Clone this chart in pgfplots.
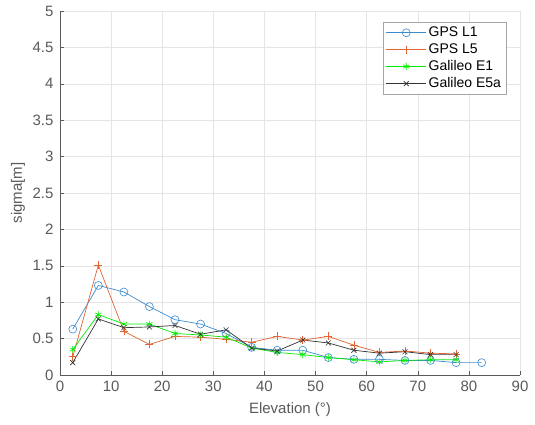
\documentclass[border=0pt]{standalone}
\usepackage{pgfplots}
\pgfplotsset{compat=1.18}
\usepackage{fontspec}
\setmainfont{Liberation Sans}
\definecolor{mblue}{RGB}{60,140,205}
\definecolor{morange}{RGB}{225,100,50}
\definecolor{mgreen}{RGB}{0,235,0}
\definecolor{axgray}{RGB}{90,90,90}
\begin{document}
\begin{tikzpicture}
\begin{axis}[
  name=ax,
  scale only axis, width=460pt, height=364pt,
  xmin=0, xmax=90, ymin=0, ymax=5,
  xtick={0,10,...,90}, ytick={0,0.5,...,5},
  yticklabels={0,0.5,1,1.5,2,2.5,3,3.5,4,4.5,5},
  /pgf/number format/assume math mode=true,
  axis x line*=bottom, axis y line*=left,
  axis line style={axgray, line width=0.6pt},
  tick style={axgray, line width=0.5pt}, tick align=inside,
  major tick length=4pt,
  ticklabel style={font=\fontsize{15}{17}\selectfont, text=axgray},
  yticklabel style={xshift=-3pt},
  xticklabel style={yshift=-2pt},
  grid=major, grid style={gray!20, line width=0.5pt},
  xlabel={\textcolor{axgray}{Elevation (°)}}, ylabel={\textcolor{axgray}{sigma[m]}},
  every axis y label/.style={at={(axis description cs:0,0.5)}, xshift=-42pt, rotate=90, anchor=center, font=\fontsize{15}{17}\selectfont},
  every axis x label/.style={at={(axis description cs:0.5,0)}, yshift=-35pt, anchor=center, font=\fontsize{15}{17}\selectfont},
  legend style={at={(0.97,0.97)}, anchor=north east, font=\fontsize{14}{16}\selectfont, draw=gray!70, cells={anchor=west}, row sep=1.5pt, inner sep=3pt},
  legend cell align=left,
  legend image code/.code={\draw[#1, mark repeat=2, mark phase=2] plot coordinates {(0pt,0pt)(20pt,0pt)(40pt,0pt)};},
]
\addplot[color=mblue, line width=0.7pt, mark=o, mark size=4pt, mark options={line width=0.6pt}] coordinates {
(2.5,0.63)(7.5,1.23)(12.5,1.14)(17.5,0.94)(22.5,0.76)(27.5,0.70)(32.5,0.57)(37.5,0.38)(42.5,0.34)(47.5,0.34)(52.5,0.24)(57.5,0.215)(62.5,0.215)(67.5,0.20)(72.5,0.20)(77.5,0.17)(82.5,0.17)};
\addlegendentry{GPS L1}
\addplot[color=morange, line width=0.7pt, mark=+, mark size=4pt, mark options={line width=0.6pt}] coordinates {
(2.5,0.25)(7.5,1.51)(12.5,0.60)(17.5,0.42)(22.5,0.53)(27.5,0.52)(32.5,0.49)(37.5,0.45)(42.5,0.53)(47.5,0.48)(52.5,0.53)(57.5,0.41)(62.5,0.31)(67.5,0.33)(72.5,0.30)(77.5,0.29)};
\addlegendentry{GPS L5}
\addplot[color=mgreen, line width=0.7pt, mark=asterisk, mark size=3.5pt, mark options={line width=0.6pt}] coordinates {
(2.5,0.35)(7.5,0.83)(12.5,0.70)(17.5,0.70)(22.5,0.57)(27.5,0.55)(32.5,0.52)(37.5,0.37)(42.5,0.31)(47.5,0.28)(52.5,0.24)(57.5,0.21)(62.5,0.18)(67.5,0.20)(72.5,0.21)(77.5,0.21)};
\addlegendentry{Galileo E1}
\addplot[color=black!80, line width=0.7pt, mark=x, mark size=3.5pt, mark options={line width=0.6pt}] coordinates {
(2.5,0.17)(7.5,0.77)(12.5,0.65)(17.5,0.66)(22.5,0.68)(27.5,0.56)(32.5,0.62)(37.5,0.37)(42.5,0.33)(47.5,0.48)(52.5,0.44)(57.5,0.34)(62.5,0.30)(67.5,0.32)(72.5,0.28)(77.5,0.28)};
\addlegendentry{Galileo E5a}
\end{axis}
\path ([xshift=-60pt,yshift=-50pt]ax.south west) rectangle ([xshift=15pt,yshift=11pt]ax.north east);
\end{tikzpicture}
\end{document}
